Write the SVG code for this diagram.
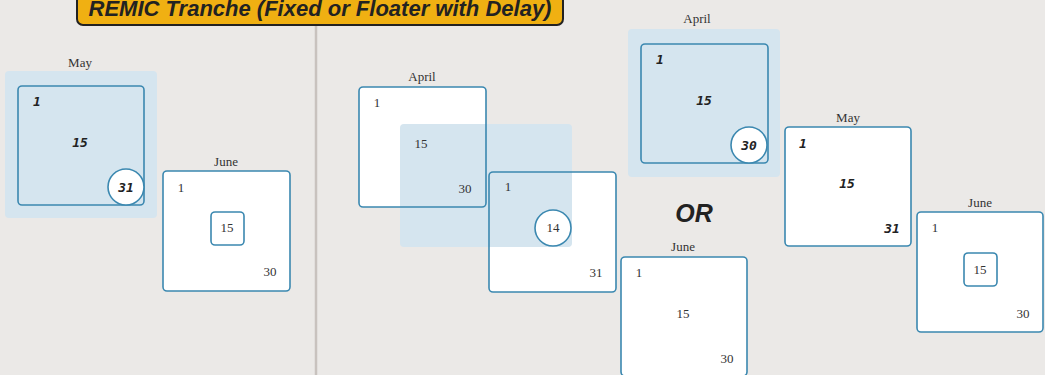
<svg xmlns="http://www.w3.org/2000/svg" width="1045" height="375" viewBox="0 0 1045 375">
<style>
.bg{fill:#ebe9e7}
.hl{fill:#d5e5ef}
.box{fill:#ffffff;stroke:#3b88b0;stroke-width:1.6}
.fillonly{fill:#ffffff;stroke:none}
.edge{fill:none;stroke:#3b88b0;stroke-width:1.6}
.boxhl{fill:#d5e5ef;stroke:#3b88b0;stroke-width:1.6}
.circ{fill:#ffffff;stroke:#3b88b0;stroke-width:1.6}
.mon{font-family:"Liberation Serif",serif;font-size:13px;fill:#333;text-anchor:middle}
.num{font-family:"Liberation Serif",serif;font-size:13px;fill:#333;text-anchor:middle}
.bi{font-family:"DejaVu Sans Mono","Liberation Mono",monospace;font-size:13px;font-weight:bold;font-style:italic;fill:#222;text-anchor:middle}
.title{font-family:"Liberation Sans",Arial,sans-serif;font-size:22px;font-weight:bold;font-style:italic;fill:#222;text-anchor:middle}
.or{font-family:"Liberation Sans",Arial,sans-serif;font-size:25px;font-weight:bold;font-style:italic;fill:#222;text-anchor:middle}
</style>
<rect class="bg" x="0" y="0" width="1045" height="375"/>
<line x1="316" y1="24" x2="316" y2="375" stroke="#c8c2be" stroke-width="2.5"/>
<g id="title">
<rect x="77" y="-12" width="486" height="37" rx="6" fill="#f0b012" stroke="#222" stroke-width="2"/>
<text class="title" x="320" y="16">REMIC Tranche (Fixed or Floater with Delay)</text>
</g>
<g id="connectors"></g>
<g id="left-may">
<rect class="hl" x="5" y="71" width="152" height="147" rx="4"/>
<text class="mon" x="80" y="67">May</text>
<rect class="boxhl" x="18" y="86" width="126" height="119" rx="4"/>
<text class="bi" x="37" y="106">1</text>
<text class="bi" x="80" y="147">15</text>
<circle class="circ" cx="126" cy="187" r="18"/>
<text class="bi" x="126" y="192">31</text>
</g>
<g id="left-june">
<text class="mon" x="226" y="166">June</text>
<rect class="box" x="163" y="171" width="127" height="120" rx="4"/>
<text class="num" x="181" y="192">1</text>
<rect class="box" x="211" y="212" width="33" height="33" rx="4"/>
<text class="num" x="227" y="232">15</text>
<text class="num" x="270" y="276">30</text>
</g>
<g id="mid-april">
<text class="mon" x="422" y="81">April</text>
<rect class="fillonly" x="359" y="87" width="127" height="120" rx="4"/>
</g>
<g id="mid-may">
<text class="mon" x="552" y="166">May</text>
<rect class="fillonly" x="489" y="172" width="127" height="120" rx="4"/>
</g>
<g id="mid-highlight">
<rect class="hl" x="400" y="124" width="172" height="123" rx="4"/>
<rect class="edge" x="359" y="87" width="127" height="120" rx="4"/>
<rect class="edge" x="489" y="172" width="127" height="120" rx="4"/>
<text class="num" x="377" y="107">1</text>
<text class="num" x="465" y="193">30</text>
<text class="num" x="508" y="191">1</text>
<text class="num" x="596" y="277">31</text>
<text class="num" x="421" y="148">15</text>
<circle class="circ" cx="553" cy="228" r="18"/>
<text class="num" x="553" y="232">14</text>
</g>
<g id="right-april">
<rect class="hl" x="628" y="29" width="152" height="148" rx="4"/>
<text class="mon" x="697" y="23">April</text>
<rect class="boxhl" x="641" y="44" width="127" height="119" rx="4"/>
<text class="bi" x="660" y="64">1</text>
<text class="bi" x="704" y="105">15</text>
<circle class="circ" cx="749" cy="145" r="18"/>
<text class="bi" x="749" y="150">30</text>
</g>
<g id="or">
<text class="or" x="694" y="222">OR</text>
</g>
<g id="right-june-a">
<text class="mon" x="683" y="251">June</text>
<rect class="box" x="621" y="257" width="126" height="119" rx="4"/>
<text class="num" x="639" y="277">1</text>
<text class="num" x="683" y="318">15</text>
<text class="num" x="727" y="363">30</text>
</g>
<g id="right-may">
<text class="mon" x="848" y="122">May</text>
<rect class="box" x="785" y="127" width="126" height="119" rx="4"/>
<text class="bi" x="803" y="148">1</text>
<text class="bi" x="847" y="188">15</text>
<text class="bi" x="892" y="233">31</text>
</g>
<g id="right-june-b">
<text class="mon" x="980" y="207">June</text>
<rect class="box" x="917" y="212" width="126" height="120" rx="4"/>
<text class="num" x="935" y="232">1</text>
<rect class="box" x="964" y="253" width="33" height="33" rx="4"/>
<text class="num" x="980" y="274">15</text>
<text class="num" x="1023" y="318">30</text>
</g>
</svg>
